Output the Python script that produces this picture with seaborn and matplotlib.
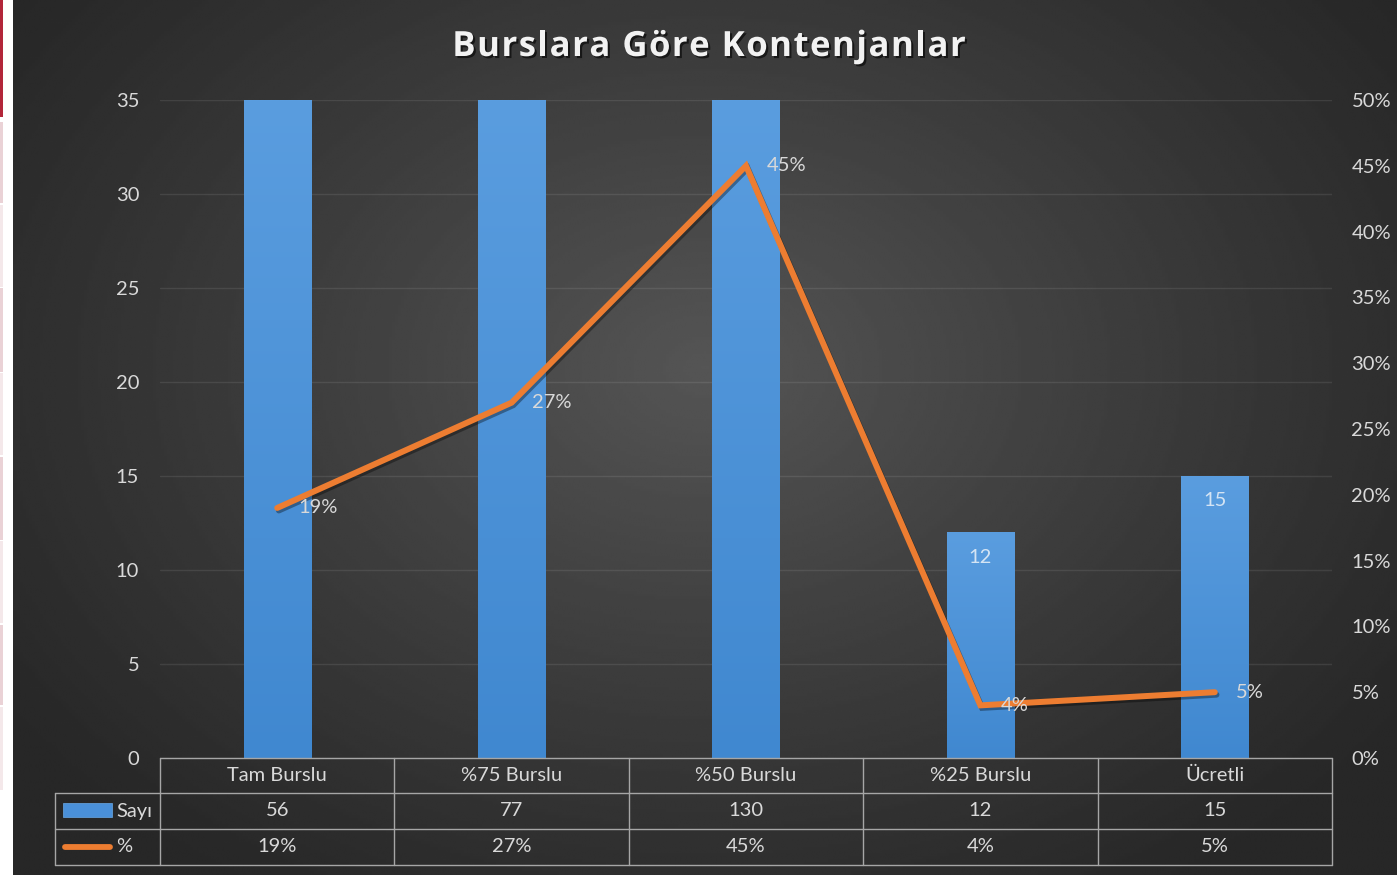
import numpy as np
import pandas as pd
import matplotlib
matplotlib.use("Agg")
import matplotlib.pyplot as plt
import seaborn as sns
from matplotlib import patheffects as pe
from matplotlib.patches import Rectangle
from matplotlib.lines import Line2D
from matplotlib.ticker import FuncFormatter
from matplotlib.transforms import blended_transform_factory
from matplotlib.colors import LinearSegmentedColormap
from matplotlib.font_manager import FontProperties

# ---------------- data ----------------
title = "Burslara Göre Kontenjanlar"
categories = ["Tam Burslu", "%75 Burslu", "%50 Burslu", "%25 Burslu", "Ücretli"]
counts = [56, 77, 130, 12, 15]
percents = [19, 27, 45, 4, 5]
series_names = ["Sayı", "%"]
left_ticks = [0, 5, 10, 15, 20, 25, 30, 35]
right_ticks = [0, 5, 10, 15, 20, 25, 30, 35, 40, 45, 50]

sns.set_theme(style="dark")
plt.rcParams["font.family"] = ["Lato", "DejaVu Sans"]

W, H = 1397, 875
fig = plt.figure(figsize=(W / 100, H / 100), dpi=100, facecolor="white")


def fx(px):
    return px / W


def fy(py):
    return 1 - py / H


TXT = "#d9d9d9"
BAR = "#4A90D9"
ORANGE = "#ED7D31"
TABLE_C = "#a6a6a6"
FS = 14.5

# ---------------- screenshot edge artefacts ----------------
fig.add_artist(Rectangle((0, fy(117)), fx(3), 117 / H, transform=fig.transFigure,
                         color="#B3263A", lw=0))
for (a, b, col) in [(122, 203, "#ead2d6"), (288, 372, "#ead2d6"), (457, 540, "#ead2d6"),
                    (625, 705, "#ead2d6"), (205, 287, "#f4e8ea"), (373, 455, "#f4e8ea"),
                    (541, 623, "#f4e8ea"), (707, 790, "#f4e8ea")]:
    fig.add_artist(Rectangle((0, fy(b)), fx(3), (b - a) / H, transform=fig.transFigure,
                             color=col, lw=0))

# ---------------- background radial gradient ----------------
bg = fig.add_axes([fx(13), 0, 1 - fx(13), 1])
yy, xx = np.mgrid[0:1:300j, 0:1:480j]
r = np.sqrt(((xx - 0.5) / 0.62) ** 2 + ((yy - 0.42) / 0.72) ** 2)
c = np.clip(1 - r, 0, 1)
lo, hi = 0x27 / 255, 0x55 / 255
img = lo + (hi - lo) * c ** 1.1
bg.imshow(img, cmap="gray", vmin=0, vmax=1, aspect="auto", extent=[0, 1, 0, 1],
          origin="upper", interpolation="bilinear")
bg.set_axis_off()

# ---------------- main axes ----------------
ax = fig.add_axes([fx(160), fy(758), fx(1332) - fx(160), (758 - 100) / H])
ax.patch.set_alpha(0)

df = pd.DataFrame({"Kategori": categories, "Sayı": counts, "%": percents})
sns.barplot(data=df, x="Kategori", y="Sayı", ax=ax, color=BAR, saturation=1,
            width=0.286, zorder=2, linewidth=0, edgecolor="none")
ax.set_xlim(-0.5, 4.5)
ax.set_ylim(left_ticks[0], left_ticks[-1])
ax.set_yticks(left_ticks)
ax.yaxis.grid(True, color="white", alpha=0.09, lw=1)
ax.xaxis.grid(False)
ax.set_axisbelow(True)
for s in ax.spines.values():
    s.set_visible(False)
ax.set_xlabel("")
ax.set_ylabel("")
ax.set_xticklabels([])
ax.tick_params(axis="both", length=0)
ax.tick_params(axis="y", labelsize=FS, labelcolor=TXT, pad=15)

# gradient fill for the bars
grad = np.linspace(0, 1, 256).reshape(-1, 1)
bcmap = LinearSegmentedColormap.from_list("b", ["#5A9DDF", "#4088D0"])
for p in list(ax.patches):
    x0, w = p.get_x(), p.get_width()
    h = min(p.get_height(), left_ticks[-1])
    im = ax.imshow(grad, cmap=bcmap, aspect="auto", extent=[x0, x0 + w, 0, h],
                   origin="upper", zorder=2.1)
    im.set_clip_path(p)
ax.set_xlim(-0.5, 4.5)
ax.set_ylim(left_ticks[0], left_ticks[-1])

for i, v in enumerate(counts):
    if v <= left_ticks[-1]:
        ax.annotate(str(v), (i, v), xytext=(0, -18), textcoords="offset points",
                    ha="center", va="center", fontsize=FS, color="#d4e4f4", zorder=5)

# ---------------- secondary axis with line ----------------
ax2 = ax.twinx()
ax2.patch.set_alpha(0)
sns.lineplot(x=list(range(len(categories))), y=percents, ax=ax2, color=ORANGE,
             lw=4.3, solid_capstyle="round", solid_joinstyle="miter", zorder=3,
             path_effects=[pe.SimpleLineShadow(offset=(1.2, -1.8), shadow_color="black",
                                               alpha=0.35), pe.Normal()])
ax2.set_ylim(right_ticks[0], right_ticks[-1])
ax2.set_yticks(right_ticks)
ax2.yaxis.set_major_formatter(FuncFormatter(lambda v, _: f"{v:.0f}%"))
ax2.grid(False)
for s in ax2.spines.values():
    s.set_visible(False)
ax2.set_ylabel("")
ax2.tick_params(axis="both", length=0)
ax2.tick_params(axis="y", labelsize=FS, labelcolor=TXT, pad=14)
ax2.set_xlim(-0.5, 4.5)

for i, v in enumerate(percents):
    ax2.annotate(f"{v}%", (i, v), xytext=(15, 0), textcoords="offset points",
                 ha="left", va="center", fontsize=FS, color=TXT, zorder=5)

# ---------------- data table ----------------
tr = blended_transform_factory(ax.transData, fig.transFigure)
n = len(categories)
row_y = [758, 793, 829, 865]
x_left_px = 55

fig.add_artist(Line2D([-0.5, n - 0.5], [fy(row_y[0]), fy(row_y[0])], transform=tr,
                      color=TABLE_C, lw=1))
for y in row_y[1:]:
    fig.add_artist(Line2D([fx(x_left_px), fx(1332)], [fy(y), fy(y)],
                          transform=fig.transFigure, color=TABLE_C, lw=1))
for k in range(n + 1):
    fig.add_artist(Line2D([k - 0.5, k - 0.5], [fy(row_y[0]), fy(row_y[-1])], transform=tr,
                          color=TABLE_C, lw=1))
fig.add_artist(Line2D([fx(x_left_px), fx(x_left_px)], [fy(row_y[1]), fy(row_y[-1])],
                      transform=fig.transFigure, color=TABLE_C, lw=1))

centers = [(row_y[j] + row_y[j + 1]) / 2 for j in range(3)]
for i in range(n):
    fig.text(i, fy(centers[0]), categories[i], transform=tr, ha="center", va="center",
             fontsize=FS, color=TXT)
    fig.text(i, fy(centers[1]), str(counts[i]), transform=tr, ha="center", va="center",
             fontsize=FS, color=TXT)
    fig.text(i, fy(centers[2]), f"{percents[i]}%", transform=tr, ha="center", va="center",
             fontsize=FS, color=TXT)

# legend keys inside the table
fig.add_artist(Rectangle((fx(63), fy(817)), fx(112) - fx(63), 14 / H,
                         transform=fig.transFigure, facecolor=BAR, edgecolor="#6aa9e6", lw=0.5))
fig.add_artist(Line2D([fx(65), fx(110)], [fy(centers[2]), fy(centers[2])],
                      transform=fig.transFigure, color=ORANGE, lw=4.2,
                      solid_capstyle="round"))
fig.text(fx(116), fy(centers[1]), series_names[0], ha="left", va="center",
         fontsize=FS, color=TXT)
fig.text(fx(116), fy(centers[2]), series_names[1], ha="left", va="center",
         fontsize=FS, color=TXT)

# ---------------- title (with extra letter spacing) ----------------
tprop = FontProperties(family=["Open Sans", "DejaVu Sans"], weight="bold", size=25)
renderer = fig.canvas.get_renderer()


def text_w(s):
    w, _, _ = renderer.get_text_width_height_descent(s, tprop, ismath=False)
    return w


bar_w = text_w("||")
adv = [text_w("|" + ch + "|") - bar_w for ch in title]
spacing = 1.5
total = sum(adv) + spacing * (len(title) - 1)
x_px = 709 - total / 2
for ch, a in zip(title, adv):
    if ch != " ":
        fig.text(fx(x_px), fy(47), ch, ha="left", va="center", fontproperties=tprop,
                 color="#f2f2f2",
                 path_effects=[pe.withSimplePatchShadow(offset=(1.5, -1.5),
                                                        shadow_rgbFace="black", alpha=0.6)])
    x_px += a + spacing

fig.savefig("out.png", dpi=100, facecolor=fig.get_facecolor())
